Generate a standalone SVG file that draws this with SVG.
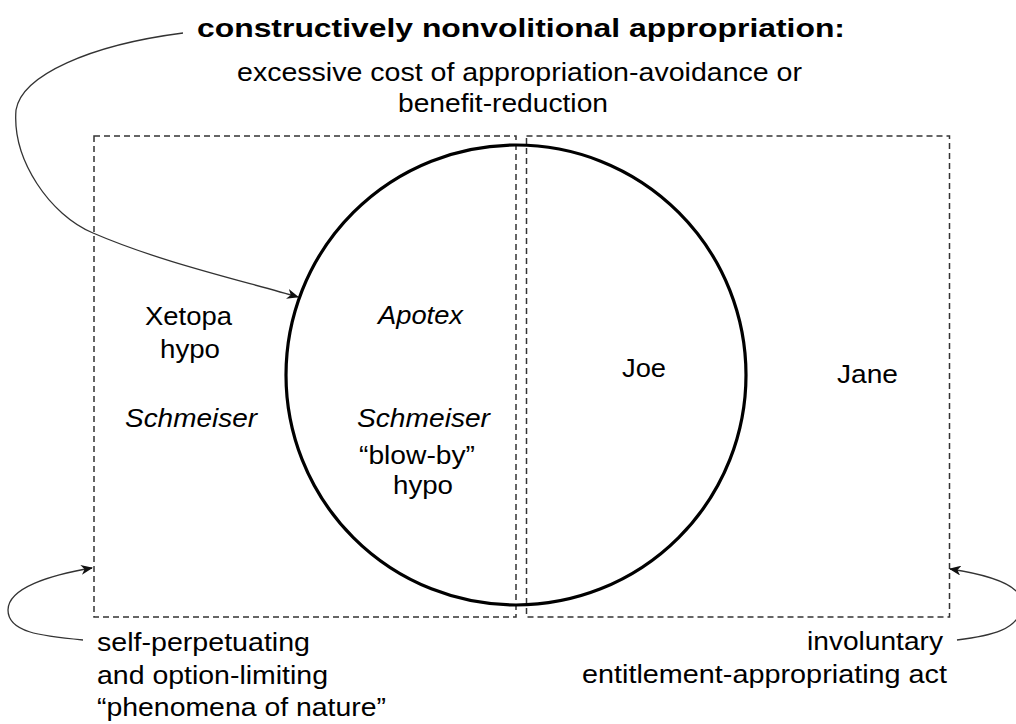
<svg xmlns="http://www.w3.org/2000/svg" width="1016" height="724" viewBox="0 0 1016 724">
<style>
text{font-family:"Liberation Sans",Arial,sans-serif;font-size:25.5px;fill:#000}
.t{font-weight:bold;font-size:26.5px}
.it{font-style:italic}
.box{fill:none;stroke:#333;stroke-width:1.5;stroke-dasharray:6 4}
.conn{fill:none;stroke:#333;stroke-width:1.3}
</style>
<defs>
<marker id="ah" viewBox="0 0 12 10" refX="11" refY="5" markerWidth="12" markerHeight="10" markerUnits="userSpaceOnUse" orient="auto">
<path d="M0,0 L12,5 L0,10 L3.5,5 z" fill="#111"/>
</marker>
</defs>
<rect width="1016" height="724" fill="#fff"/>
<g id="header">
<text class="t" x="521" y="37" text-anchor="middle" textLength="648" lengthAdjust="spacingAndGlyphs">constructively nonvolitional appropriation:</text>
<text x="519.5" y="81" text-anchor="middle" textLength="565" lengthAdjust="spacingAndGlyphs">excessive cost of appropriation-avoidance or</text>
<text x="503" y="112" text-anchor="middle" textLength="210" lengthAdjust="spacingAndGlyphs">benefit-reduction</text>
</g>
<g id="left-box">
<rect class="box" x="94" y="136" width="422" height="481"/>
<text x="188.5" y="325" text-anchor="middle" textLength="87" lengthAdjust="spacingAndGlyphs">Xetopa</text>
<text x="190" y="358" text-anchor="middle" textLength="60" lengthAdjust="spacingAndGlyphs">hypo</text>
<text class="it" x="191" y="427" text-anchor="middle" textLength="132" lengthAdjust="spacingAndGlyphs">Schmeiser</text>
</g>
<g id="right-box">
<rect class="box" x="526.5" y="136" width="423" height="481"/>
<text x="644" y="377" text-anchor="middle" textLength="44" lengthAdjust="spacingAndGlyphs">Joe</text>
<text x="867.5" y="383" text-anchor="middle" textLength="61" lengthAdjust="spacingAndGlyphs">Jane</text>
</g>
<g id="circle">
<circle cx="516" cy="375" r="230" fill="none" stroke="#000" stroke-width="3.2"/>
<text class="it" x="420.5" y="324" text-anchor="middle" textLength="85" lengthAdjust="spacingAndGlyphs">Apotex</text>
<text class="it" x="423.5" y="427" text-anchor="middle" textLength="133" lengthAdjust="spacingAndGlyphs">Schmeiser</text>
<text x="417" y="464" text-anchor="middle" textLength="116" lengthAdjust="spacingAndGlyphs">“blow-by”</text>
<text x="423" y="494" text-anchor="middle" textLength="60" lengthAdjust="spacingAndGlyphs">hypo</text>
</g>
<g id="left-note">
<text x="97" y="651" textLength="213" lengthAdjust="spacingAndGlyphs">self-perpetuating</text>
<text x="97" y="684" textLength="231" lengthAdjust="spacingAndGlyphs">and option-limiting</text>
<text x="97" y="716" textLength="289" lengthAdjust="spacingAndGlyphs">“phenomena of nature”</text>
</g>
<g id="right-note">
<text x="943" y="650" text-anchor="end" textLength="136" lengthAdjust="spacingAndGlyphs">involuntary</text>
<text x="947" y="683" text-anchor="end" textLength="365" lengthAdjust="spacingAndGlyphs">entitlement-appropriating act</text>
</g>
<g id="connectors">
<path class="conn" d="M183,33 C90,45 22,75 16,110 C12,160 50,215 93,233 C160,262 240,280 298,297" marker-end="url(#ah)"/>
<path class="conn" d="M83,640 C40,636 8,632 8,610 C8,588 50,575 92,568" marker-end="url(#ah)"/>
<path class="conn" d="M957,640 C990,636 1020,630 1022,605 C1024,585 990,575 950,569" marker-end="url(#ah)"/>
</g>
</svg>
